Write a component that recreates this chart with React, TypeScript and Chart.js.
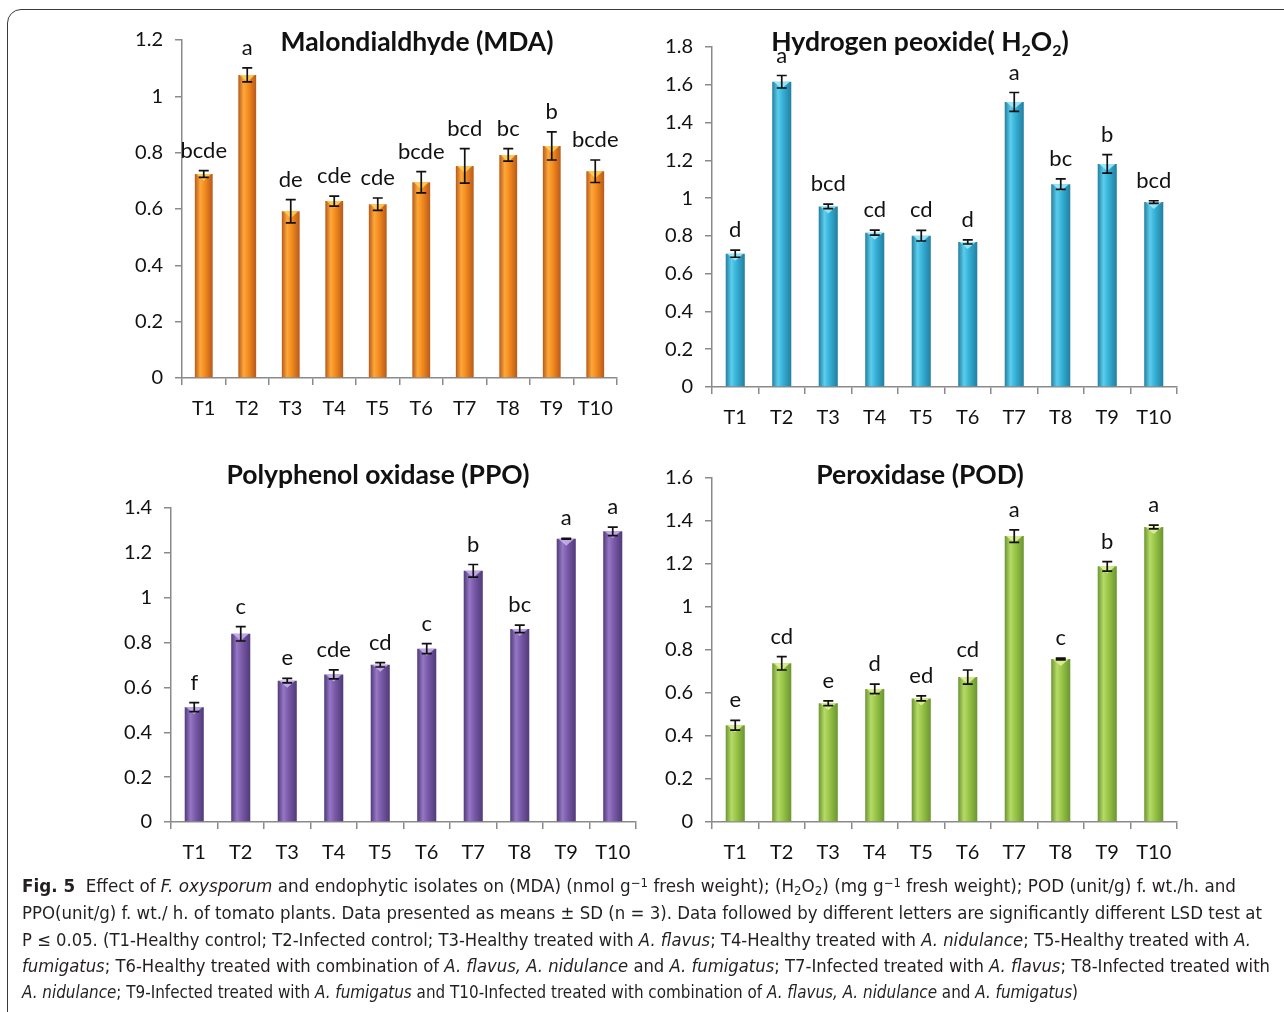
import React, { useEffect, useLayoutEffect, useRef } from "react";
import { Chart, registerables } from "chart.js";

Chart.register(...registerables);

// ---------------- data ----------------
const categories = ["T1", "T2", "T3", "T4", "T5", "T6", "T7", "T8", "T9", "T10"];

const mdaValues = [0.724, 1.076, 0.592, 0.628, 0.617, 0.695, 0.753, 0.792, 0.824, 0.734];
const mdaErrors = [0.012, 0.025, 0.041, 0.018, 0.022, 0.038, 0.061, 0.022, 0.05, 0.04];
const mdaLetters = ["bcde", "a", "de", "cde", "cde", "bcde", "bcd", "bc", "b", "bcde"];
const mdaMax = 1.2;

const h2o2Values = [0.706, 1.616, 0.956, 0.817, 0.801, 0.768, 1.509, 1.074, 1.181, 0.979];
const h2o2Errors = [0.019, 0.033, 0.012, 0.013, 0.028, 0.011, 0.05, 0.028, 0.049, 0.007];
const h2o2Letters = ["d", "a", "bcd", "cd", "cd", "d", "a", "bc", "b", "bcd"];
const h2o2Max = 1.8;

const ppoValues = [0.512, 0.839, 0.63, 0.658, 0.701, 0.773, 1.12, 0.861, 1.263, 1.296];
const ppoErrors = [0.02, 0.032, 0.01, 0.02, 0.01, 0.022, 0.028, 0.017, 0.002, 0.019];
const ppoLetters = ["f", "c", "e", "cde", "cd", "c", "b", "bc", "a", "a"];
const ppoMax = 1.4;

const podValues = [0.45, 0.738, 0.552, 0.619, 0.575, 0.674, 1.33, 0.758, 1.189, 1.372];
const podErrors = [0.023, 0.031, 0.011, 0.022, 0.012, 0.033, 0.029, 0.004, 0.022, 0.009];
const podLetters = ["e", "cd", "e", "d", "ed", "cd", "a", "c", "b", "a"];
const podMax = 1.6;

const yStep = 0.2;

// ---------------- styling ----------------
const FONT = "Lato, 'Open Sans', sans-serif";
const AXIS_COLOR = "#8a8a8a";
const BAR_PCT = 0.41;

type Seg = { t: string; sub?: boolean };
type Palette = { edge: string; light: string; mid: string; top: string };

const orange: Palette = { edge: "#b8591a", light: "#fca83a", mid: "#f58c1f", top: "#ffd45a" };
const blue: Palette = { edge: "#237e9f", light: "#5ccdec", mid: "#36b2d8", top: "#a6ecfa" };
const purple: Palette = { edge: "#4f3a78", light: "#9677c6", mid: "#7a5aa9", top: "#c9b4ee" };
const green: Palette = { edge: "#6a9530", light: "#b6da68", mid: "#99c647", top: "#e2f59a" };

const errorBarPlugin = {
  id: "errorBars",
  afterDatasetsDraw(chart: any, _args: any, opts: any) {
    const { ctx } = chart;
    const ys = chart.scales.y;
    const meta = chart.getDatasetMeta(0);
    const data = chart.data.datasets[0].data as number[];
    ctx.save();
    meta.data.forEach((bar: any) => {
      const { x, y, width } = bar.getProps(["x", "y", "width"], true);
      const h = Math.min(7, ys.getPixelForValue(0) - y);
      ctx.fillStyle = opts.topColor;
      ctx.globalAlpha = 0.85;
      ctx.beginPath();
      ctx.moveTo(x - width / 2 + 1.5, y);
      ctx.lineTo(x + width / 2 - 1.5, y);
      ctx.lineTo(x, y + h);
      ctx.closePath();
      ctx.fill();
    });
    ctx.globalAlpha = 1;
    ctx.strokeStyle = "#111";
    ctx.lineWidth = 1.7;
    ctx.fillStyle = "#111";
    ctx.font = `22px ${FONT}`;
    ctx.textAlign = "center";
    ctx.textBaseline = "alphabetic";
    meta.data.forEach((bar: any, i: number) => {
      const x = bar.x;
      const v = data[i];
      const e = opts.errors[i];
      const yt = ys.getPixelForValue(v + e);
      const yb = ys.getPixelForValue(v - e);
      ctx.beginPath();
      ctx.moveTo(x, yt);
      ctx.lineTo(x, yb);
      ctx.moveTo(x - 5, yt);
      ctx.lineTo(x + 5, yt);
      ctx.moveTo(x - 5, yb);
      ctx.lineTo(x + 5, yb);
      ctx.stroke();
      ctx.fillText(opts.letters[i], x, yt - 13);
    });
    ctx.restore();
  },
};

const titlePlugin = {
  id: "panelTitle",
  afterDraw(chart: any, _args: any, opts: any) {
    const { ctx } = chart;
    const main = `bold ${opts.size}px ${FONT}`;
    const sub = `bold ${Math.round(opts.size * 0.62)}px ${FONT}`;
    ctx.save();
    ctx.fillStyle = "#111";
    ctx.textBaseline = "alphabetic";
    ctx.textAlign = "left";
    let total = 0;
    const widths = opts.segments.map((s: Seg) => {
      ctx.font = s.sub ? sub : main;
      const w = ctx.measureText(s.t).width;
      total += w;
      return w;
    });
    let x = opts.cx - total / 2;
    opts.segments.forEach((s: Seg, i: number) => {
      ctx.font = s.sub ? sub : main;
      ctx.fillText(s.t, x, opts.baseline + (s.sub ? 5 : 0));
      x += widths[i];
    });
    ctx.restore();
  },
};

type Panel = {
  values: number[];
  errors: number[];
  letters: string[];
  max: number;
  palette: Palette;
  canvasL: number;
  canvasT: number;
  area: { l: number; t: number; r: number; b: number };
  title: Seg[];
  titleCx: number;
  titleBase: number;
};

function BarPanel({ p }: { p: Panel }) {
  const ref = useRef<HTMLCanvasElement>(null);
  const width = p.area.r + 20 - p.canvasL;
  const height = p.area.b + 55 - p.canvasT;
  const yAxisW = p.area.l - p.canvasL;

  useEffect(() => {
    const canvas = ref.current;
    if (!canvas) return;
    const pal = p.palette;
    const chart = new Chart(canvas, {
      type: "bar",
      data: {
        labels: categories,
        datasets: [
          {
            data: p.values,
            barPercentage: BAR_PCT,
            categoryPercentage: 1,
            borderWidth: 0,
            backgroundColor: (c: any) => {
              const ch = c.chart;
              const xs = ch.scales?.x;
              if (!xs || c.dataIndex == null || !ch.chartArea) return pal.mid;
              const cx = xs.getPixelForValue(c.dataIndex);
              const w = (xs.width / categories.length) * BAR_PCT;
              const g = ch.ctx.createLinearGradient(cx - w / 2, 0, cx + w / 2, 0);
              g.addColorStop(0, pal.edge);
              g.addColorStop(0.3, pal.light);
              g.addColorStop(0.55, pal.mid);
              g.addColorStop(1, pal.edge);
              return g;
            },
          } as any,
        ],
      },
      options: {
        responsive: false,
        animation: false,
        devicePixelRatio: 1,
        layout: {
          padding: { left: 0, right: 20, top: p.area.t - p.canvasT, bottom: 5 },
        },
        plugins: {
          legend: { display: false },
          tooltip: { enabled: false },
          errorBars: { errors: p.errors, letters: p.letters, topColor: pal.top },
          panelTitle: {
            segments: p.title,
            cx: p.titleCx - p.canvasL,
            baseline: p.titleBase - p.canvasT,
            size: 26.5,
          },
        } as any,
        scales: {
          x: {
            type: "category",
            grid: {
              display: true,
              drawOnChartArea: false,
              drawTicks: true,
              tickLength: 7,
              color: AXIS_COLOR,
              lineWidth: 1.5,
              offset: true,
            },
            border: { display: true, color: AXIS_COLOR, width: 1.5 },
            ticks: {
              color: "#111",
              font: { family: FONT, size: 20 },
              padding: 12,
              maxRotation: 0,
              autoSkip: false,
            },
            afterFit: (s: any) => {
              s.height = 50;
            },
          },
          y: {
            min: 0,
            max: p.max,
            grid: {
              display: true,
              drawOnChartArea: false,
              drawTicks: true,
              tickLength: 7,
              color: AXIS_COLOR,
              lineWidth: 1.5,
            },
            border: { display: true, color: AXIS_COLOR, width: 1.5 },
            ticks: {
              stepSize: yStep,
              color: "#111",
              font: { family: FONT, size: 20 },
              padding: 12,
              callback: (v: any) => String(Math.round(Number(v) * 10) / 10),
            },
            afterFit: (s: any) => {
              s.width = yAxisW;
            },
          },
        },
      },
      plugins: [errorBarPlugin, titlePlugin],
    } as any);
    return () => chart.destroy();
  }, []);

  return (
    <canvas
      ref={ref}
      width={width}
      height={height}
      style={{ position: "absolute", left: p.canvasL, top: p.canvasT, width, height }}
    />
  );
}

const panels: Panel[] = [
  {
    values: mdaValues, errors: mdaErrors, letters: mdaLetters, max: mdaMax, palette: orange,
    canvasL: 100, canvasT: 0, area: { l: 182, t: 40, r: 617, b: 378 },
    title: [{ t: "Malondialdhyde (MDA)" }], titleCx: 417, titleBase: 51,
  },
  {
    values: h2o2Values, errors: h2o2Errors, letters: h2o2Letters, max: h2o2Max, palette: blue,
    canvasL: 640, canvasT: 0, area: { l: 712, t: 47, r: 1177, b: 387 },
    title: [{ t: "Hydrogen peoxide( H" }, { t: "2", sub: true }, { t: "O" }, { t: "2", sub: true }, { t: ")" }],
    titleCx: 920, titleBase: 51,
  },
  {
    values: ppoValues, errors: ppoErrors, letters: ppoLetters, max: ppoMax, palette: purple,
    canvasL: 90, canvasT: 440, area: { l: 171, t: 508, r: 636, b: 822 },
    title: [{ t: "Polyphenol oxidase (PPO)" }], titleCx: 378, titleBase: 484,
  },
  {
    values: podValues, errors: podErrors, letters: podLetters, max: podMax, palette: green,
    canvasL: 640, canvasT: 440, area: { l: 712, t: 478, r: 1177, b: 822 },
    title: [{ t: "Peroxidase (POD)" }], titleCx: 920, titleBase: 484,
  },
];

function CaptionLine({ top, right, children }: { top: number; right: number; children: any }) {
  const ref = useRef<HTMLDivElement>(null);
  useLayoutEffect(() => {
    const el = ref.current;
    if (!el) return;
    el.style.transform = "none";
    const natural = el.getBoundingClientRect().width;
    if (natural > 0) el.style.transform = `scaleX(${(right - 22) / natural})`;
  }, [right]);
  return (
    <div
      ref={ref}
      style={{
        position: "absolute",
        left: 22,
        top,
        whiteSpace: "nowrap",
        transformOrigin: "0 0",
        lineHeight: "26px",
      }}
    >
      {children}
    </div>
  );
}

const I = ({ children }: { children: any }) => <i>{children}</i>;
const Sup = ({ children }: { children: any }) => (
  <sup style={{ fontSize: "0.7em", verticalAlign: "0.45em", lineHeight: 0 }}>{children}</sup>
);
const Sub = ({ children }: { children: any }) => (
  <sub style={{ fontSize: "0.7em", verticalAlign: "-0.25em", lineHeight: 0 }}>{children}</sub>
);

export default function App() {
  return (
    <div
      style={{
        position: "absolute",
        left: 0,
        top: 0,
        width: 1284,
        height: 1012,
        overflow: "hidden",
        background: "#fff",
      }}
    >
      <div
        style={{
          position: "absolute",
          left: 7,
          top: 9,
          width: 1300,
          height: 1030,
          border: "1.5px solid #3a3a3a",
          borderRadius: 14,
          boxSizing: "border-box",
        }}
      />
      {panels.map((p, i) => (
        <BarPanel key={i} p={p} />
      ))}
      <div
        style={{
          fontFamily: "'Liberation Sans Narrow', 'DejaVu Sans Condensed', Roboto, sans-serif",
          fontSize: 17.5,
          color: "#231f20",
        }}
      >
        <CaptionLine top={873} right={1236}>
          <b>Fig. 5</b>&nbsp; Effect of <I>F. oxysporum</I> and endophytic isolates on (MDA) (nmol g
          <Sup>−1</Sup> fresh weight); (H<Sub>2</Sub>O<Sub>2</Sub>) (mg g<Sup>−1</Sup> fresh weight); POD
          (unit/g) f. wt./h. and
        </CaptionLine>
        <CaptionLine top={900} right={1262}>
          PPO(unit/g) f. wt./ h. of tomato plants. Data presented as means ± SD (n = 3). Data followed by
          different letters are significantly different LSD test at
        </CaptionLine>
        <CaptionLine top={927} right={1251}>
          P ≤ 0.05. (T1-Healthy control; T2-Infected control; T3-Healthy treated with <I>A. flavus</I>;
          T4-Healthy treated with <I>A. nidulance</I>; T5-Healthy treated with <I>A.</I>
        </CaptionLine>
        <CaptionLine top={953} right={1270}>
          <I>fumigatus</I>; T6-Healthy treated with combination of <I>A. flavus, A. nidulance</I> and{" "}
          <I>A. fumigatus</I>; T7-Infected treated with <I>A. flavus</I>; T8-Infected treated with
        </CaptionLine>
        <CaptionLine top={979} right={1078}>
          <I>A. nidulance</I>; T9-Infected treated with <I>A. fumigatus</I> and T10-Infected treated with
          combination of <I>A. flavus, A. nidulance</I> and <I>A. fumigatus</I>)
        </CaptionLine>
      </div>
    </div>
  );
}
